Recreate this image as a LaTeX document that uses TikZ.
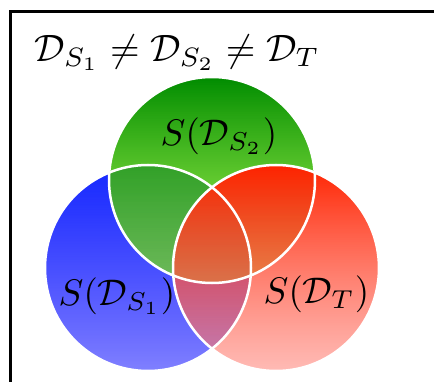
\documentclass[tikz,border=0pt]{standalone}
\usetikzlibrary{fadings}
\tikzfading[name=fadeG, top color=transparent!0, bottom color=transparent!34]
\tikzfading[name=fadeB, top color=transparent!0, bottom color=transparent!50]
\tikzfading[name=fadeR, top color=transparent!0, bottom color=transparent!45]
\definecolor{gtop}{RGB}{0,140,0}
\definecolor{gbot}{RGB}{128,238,8}
\definecolor{btop}{RGB}{20,40,255}
\definecolor{bbot}{RGB}{0,0,255}
\definecolor{rtop}{RGB}{255,35,0}
\definecolor{rbot}{RGB}{255,130,120}
\tikzset{
  lbl/.style={font=\normalsize, inner sep=0pt, anchor=base west, scale=3.7, transform shape},
  ring/.style={draw=white, line width=2.5pt},
  frameline/.style={draw=black, line width=3pt}
}
\begin{document}
\begin{tikzpicture}[x=1pt,y=1pt]
\useasboundingbox (0,0) rectangle (434,381);
\coordinate (cb) at (148,113);
\coordinate (cg) at (212,201);
\coordinate (cr) at (276,113);
\coordinate (f1) at (10,-5);
\coordinate (f2) at (10,369.5);
\coordinate (f3) at (440,369.5);
\draw[frameline] (f1) -- (f2) -- (f3);
\shade[top color=btop, bottom color=bbot, path fading=fadeB, fit fading=true] (cb) circle (103);
\shade[top color=gtop, bottom color=gbot, path fading=fadeG, fit fading=true] (cg) circle (103);
\shade[top color=rtop, bottom color=rbot, path fading=fadeR, fit fading=true] (cr) circle (103);
\draw[ring] (cb) circle (103);
\draw[ring] (cg) circle (103);
\draw[ring] (cr) circle (103);
\node[lbl, scale=1.03] (title) at (34,320) {$\mathcal{D}_{S_1} \neq \mathcal{D}_{S_2} \neq \mathcal{D}_T$};
\node[lbl] (lg) at (160,236) {$S(\mathcal{D}_{S_2})$};
\node[lbl] (lb) at (58,76) {$S(\mathcal{D}_{S_1})$};
\node[lbl] (lr) at (263,78) {$S(\mathcal{D}_T)$};
\end{tikzpicture}
\end{document}
